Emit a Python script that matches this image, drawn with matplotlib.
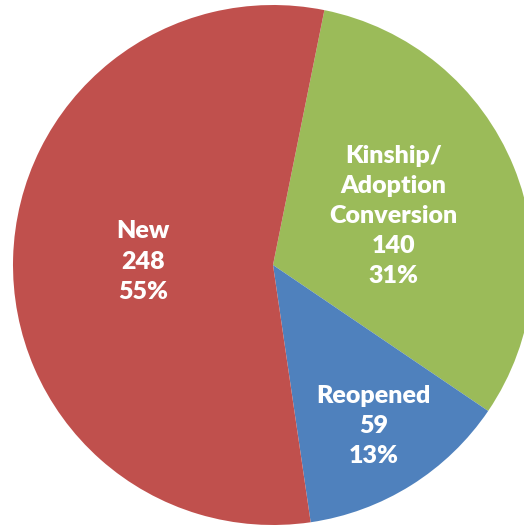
import matplotlib
matplotlib.use('Agg')
import numpy as np
from matplotlib import pyplot as plt

# Dados do gráfico
categorias = ['Kinship/\nAdoption\nConversion', 'Reopened', 'New']
valores = [140, 59, 248]
percentuais = ['31%', '13%', '55%']
cores = ['#9BBB59', '#4F81BD', '#C0504D']
distancias = [0.5, 0.73, 0.5]

fig = plt.figure(figsize=(5.24, 5.25), dpi=100)
ax = fig.add_axes([0, 0, 1, 1])

# Pie centrado em (273, 265) px, raio de 260 px
cx, cy, r = 273, 265, 260

rotulos = [f'{c}\n{v}\n{p}' for c, v, p in zip(categorias, valores, percentuais)]
fatias, textos = ax.pie(valores, colors=cores, startangle=78.6, counterclock=False,
                        labels=rotulos, labeldistance=0.5,
                        wedgeprops=dict(linewidth=0),
                        textprops=dict(color='white', fontsize=18, fontweight='heavy',
                                       family=['Lato', 'DejaVu Sans'],
                                       ha='center', va='center', linespacing=1.45))
ax.set_xlim(-cx / r, (524 - cx) / r)
ax.set_ylim(-(525 - cy) / r, cy / r)
ax.set_aspect('equal')
ax.axis('off')

# Ajusta a posição de cada rótulo dentro da fatia
for fatia, texto, d in zip(fatias, textos, distancias):
    ang = np.deg2rad((fatia.theta1 + fatia.theta2) / 2)
    texto.set_position((d * np.cos(ang), d * np.sin(ang)))
    texto.set_horizontalalignment('center')
    texto.set_verticalalignment('center')
    texto.set_multialignment('center')

fig.savefig('out.png', dpi=100)
